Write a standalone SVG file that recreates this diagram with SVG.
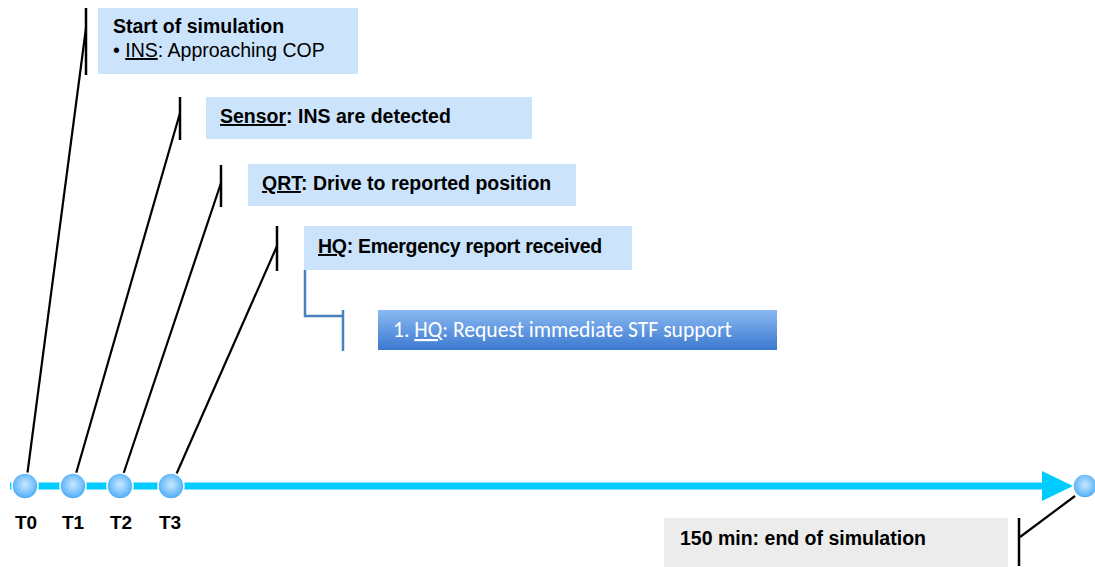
<svg xmlns="http://www.w3.org/2000/svg" width="1095" height="567" viewBox="0 0 1095 567">
<defs>
<style>
.box{fill:#cce4fb}
.t{font-family:"Liberation Sans",Arial,sans-serif;font-size:19.5px;fill:#000}
.b{font-weight:bold}
.bar{stroke:#000;stroke-width:2.5;fill:none}
.lead{stroke:#000;stroke-width:2.2;fill:none}
.lbl{font-family:"Liberation Sans",Arial,sans-serif;font-size:19px;font-weight:bold;fill:#000;text-anchor:middle}
</style>
<linearGradient id="gb" x1="0" y1="0" x2="0" y2="1">
<stop offset="0" stop-color="#8bbaf2"/>
<stop offset="1" stop-color="#3b78cf"/>
</linearGradient>
<radialGradient id="sph" cx="0.5" cy="0.45" r="0.55">
<stop offset="0" stop-color="#c8e8ff"/>
<stop offset="0.6" stop-color="#7cc4fb"/>
<stop offset="1" stop-color="#4aa8f2"/>
</radialGradient>
</defs>

<g id="connectors">
<line class="lead" x1="26" y1="484" x2="86" y2="28"/>
<line class="lead" x1="73" y1="484" x2="180" y2="113"/>
<line class="lead" x1="120" y1="484" x2="221" y2="183"/>
<line class="lead" x1="172" y1="484" x2="277" y2="246"/>
<line class="lead" x1="1020" y1="537" x2="1075" y2="496"/>
<polyline points="305,270 305,316 343,316" fill="none" stroke="#4a7fc0" stroke-width="2.5"/>
<line x1="343" y1="310" x2="343" y2="351" stroke="#4a7fc0" stroke-width="2.5"/>
</g>

<g id="timeline">
<line x1="10" y1="486" x2="1046" y2="486" stroke="#00ccff" stroke-width="7"/>
<polygon points="1042,471 1073,486 1042,501" fill="#00ccff"/>
</g>

<g id="n1">
<rect class="box" x="98" y="8" width="260" height="66"/>
<line class="bar" x1="86" y1="8" x2="86" y2="75"/>
<text class="t b" x="113" y="33">Start of simulation</text>
<text class="t" x="113" y="57">• <tspan text-decoration="underline">INS</tspan>: Approaching COP</text>
</g>

<g id="n2">
<rect class="box" x="206" y="97" width="326" height="42"/>
<line class="bar" x1="180" y1="97" x2="180" y2="140"/>
<text class="t b" x="220" y="123"><tspan text-decoration="underline">Sensor</tspan>: INS are detected</text>
</g>

<g id="n3">
<rect class="box" x="248" y="164" width="328" height="42"/>
<line class="bar" x1="221" y1="165" x2="221" y2="207"/>
<text class="t b" x="262" y="190"><tspan text-decoration="underline">QRT</tspan>: Drive to reported position</text>
</g>

<g id="n4">
<rect class="box" x="304" y="226" width="328" height="44"/>
<line class="bar" x1="277" y1="226" x2="277" y2="271"/>
<text class="t b" x="318" y="253" letter-spacing="-0.3"><tspan text-decoration="underline">HQ</tspan>: Emergency report received</text>
</g>

<g id="n5">
<rect x="378" y="310" width="399" height="40" fill="url(#gb)"/>
<text x="393" y="337" font-family="Carlito,'Open Sans','Liberation Sans',sans-serif" font-size="21.6" fill="#ffffff">1. <tspan text-decoration="underline">HQ</tspan>: Request immediate STF support</text>
</g>

<g id="n6">
<rect x="664" y="518" width="344" height="49" fill="#ececec"/>
<line class="bar" x1="1019" y1="518" x2="1019" y2="566"/>
<text class="t b" x="680" y="545">150 min: end of simulation</text>
</g>

<g id="t0"><circle cx="25" cy="486" r="13" fill="url(#sph)" stroke="#ffffff" stroke-width="1.5"/><text class="lbl" x="26" y="529">T0</text></g>
<g id="t1"><circle cx="73" cy="486" r="13" fill="url(#sph)" stroke="#ffffff" stroke-width="1.5"/><text class="lbl" x="73" y="529">T1</text></g>
<g id="t2"><circle cx="120" cy="486" r="13" fill="url(#sph)" stroke="#ffffff" stroke-width="1.5"/><text class="lbl" x="121" y="529">T2</text></g>
<g id="t3"><circle cx="171" cy="486" r="13" fill="url(#sph)" stroke="#ffffff" stroke-width="1.5"/><text class="lbl" x="170" y="529">T3</text></g>
<g id="tend"><circle cx="1085" cy="486" r="12" fill="url(#sph)" stroke="#ffffff" stroke-width="1.5"/></g>
</svg>
